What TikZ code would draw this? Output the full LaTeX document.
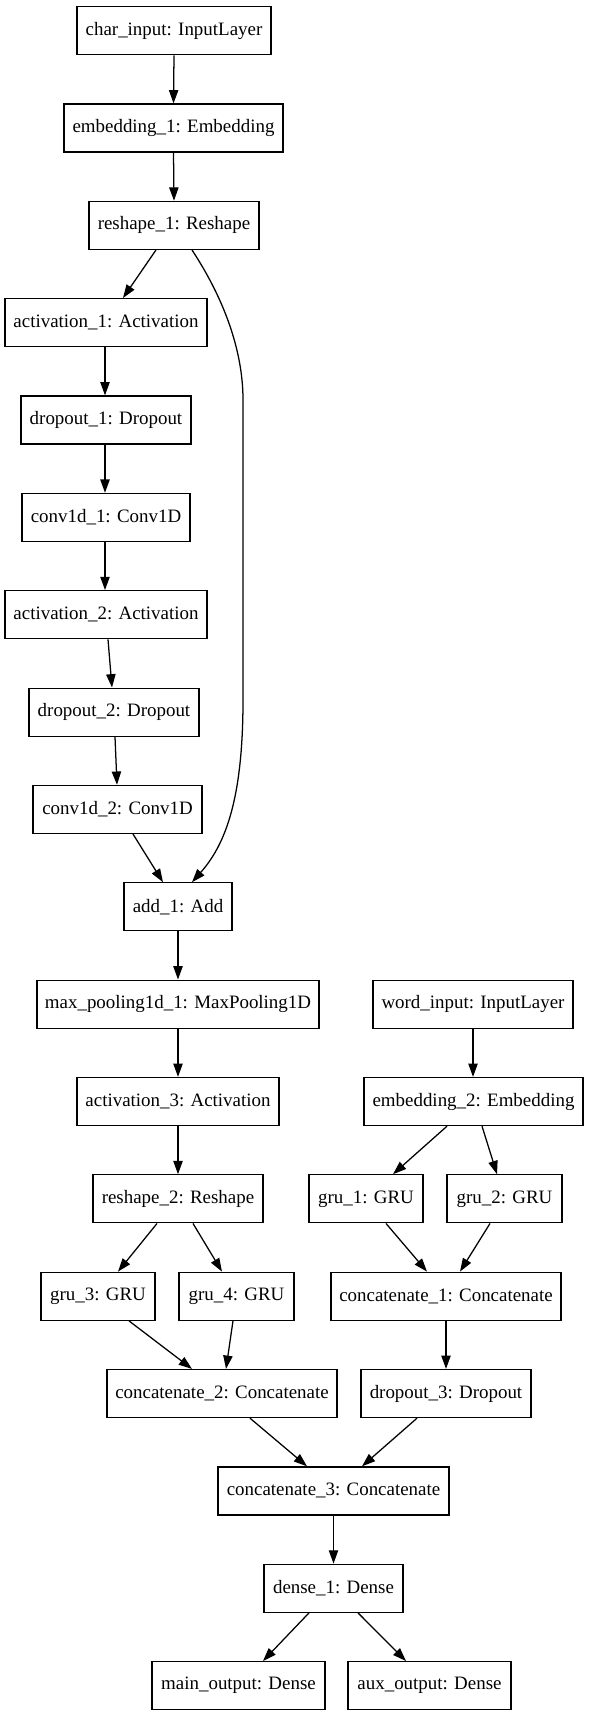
\documentclass[tikz,border=0pt]{standalone}
\usepackage{fontspec}
\setmainfont{Liberation Serif}
\usetikzlibrary{arrows.meta,calc}
\tikzset{
  layer/.style={draw=black, line width=0.95pt, rectangle, minimum height=36pt, inner sep=0pt,
    font=\fontsize{14.2pt}{17pt}\selectfont, anchor=north},
  bw/.style={minimum width=#1*0.75pt},
  arr/.style={line width=0.95pt, -{Triangle[length=10pt,width=7pt]}}
}
\begin{document}
\begin{tikzpicture}[x=0.75pt,y=-0.75pt]
\useasboundingbox[fill=white] (0,0) rectangle (589,1715);
% row tops: 6 + 97.35 k
\node[layer,bw=194] (ci) at (174,6) {char\_input: InputLayer};
\node[layer,bw=219] (e1) at (173.5,103.4) {embedding\_1: Embedding};
\node[layer,bw=170] (r1) at (174,200.7) {reshape\_1: Reshape};
\node[layer,bw=202] (a1) at (106,298) {activation\_1: Activation};
\node[layer,bw=170] (d1) at (106,395.4) {dropout\_1: Dropout};
\node[layer,bw=168] (c1) at (106,492.8) {conv1d\_1: Conv1D};
\node[layer,bw=202] (a2) at (106,590.1) {activation\_2: Activation};
\node[layer,bw=170] (d2) at (114,687.5) {dropout\_2: Dropout};
\node[layer,bw=169] (c2) at (117.5,784.8) {conv1d\_2: Conv1D};
\node[layer,bw=108] (add) at (178,882.2) {add\_1: Add};
\node[layer,bw=282] (mp) at (178,979.5) {max\_pooling1d\_1: MaxPooling1D};
\node[layer,bw=202] (a3) at (178,1076.9) {activation\_3: Activation};
\node[layer,bw=170] (r2) at (178,1174.2) {reshape\_2: Reshape};
\node[layer,bw=114] (g3) at (98,1271.6) {gru\_3: GRU};
\node[layer,bw=115] (g4) at (236.5,1271.6) {gru\_4: GRU};
\node[layer,bw=230] (cc2) at (222,1368.9) {concatenate\_2: Concatenate};
\node[layer,bw=200] (wi) at (473,979.5) {word\_input: InputLayer};
\node[layer,bw=219] (e2) at (473.5,1076.9) {embedding\_2: Embedding};
\node[layer,bw=114] (g1) at (366,1174.2) {gru\_1: GRU};
\node[layer,bw=115] (g2) at (504.5,1174.2) {gru\_2: GRU};
\node[layer,bw=230] (cc1) at (446,1271.6) {concatenate\_1: Concatenate};
\node[layer,bw=170] (d3) at (446,1368.9) {dropout\_3: Dropout};
\node[layer,bw=231] (cc3) at (333.5,1466.3) {concatenate\_3: Concatenate};
\node[layer,bw=139] (de) at (333.5,1563.6) {dense\_1: Dense};
\node[layer,bw=173] (mo) at (238.5,1661) {main\_output: Dense};
\node[layer,bw=163] (ao) at (429.5,1661) {aux\_output: Dense};

\draw[arr] (ci.south) -- (e1.south |- e1.north);
\draw[arr] (e1.south) -- (r1.north);
\draw[arr] ($(r1.south)+(-18,0)$) -- ($(a1.north)+(17,0)$);
\draw[arr] ($(r1.south)+(18,0)$) .. controls (205,270) and (243,330) .. (243,400)
  -- (243,700) .. controls (243,800) and (225,845) .. ($(add.north)+(14,0)$);
\draw[arr] ($(a1.south)+(-1,0)$) -- ($(d1.north)+(-1,0)$);
\draw[arr] ($(d1.south)+(-1,0)$) -- ($(c1.north)+(-1,0)$);
\draw[arr] ($(c1.south)+(-1,0)$) -- ($(a2.north)+(-1,0)$);
\draw[arr] ($(a2.south)+(2,0)$) -- ($(d2.north)+(-2,0)$);
\draw[arr] ($(d2.south)+(1,0)$) -- ($(c2.north)+(-0.5,0)$);
\draw[arr] ($(c2.south)+(15.5,0)$) -- ($(add.north)+(-15,0)$);
\draw[arr] (add.south) -- (mp.north);
\draw[arr] (mp.south) -- (a3.north);
\draw[arr] (a3.south) -- (r2.north);
\draw[arr] ($(r2.south)+(-21,0)$) -- ($(g3.north)+(20,0)$);
\draw[arr] ($(r2.south)+(15,0)$) -- ($(g4.north)+(-14.5,0)$);
\draw[arr] ($(g3.south)+(31,0)$) -- ($(cc2.north)+(-30,0)$);
\draw[arr] ($(g4.south)+(-3.5,0)$) -- ($(cc2.north)+(4,0)$);
\draw[arr] (wi.south) -- ($(e2.north)+(-0.5,0)$);
\draw[arr] ($(e2.south)+(-26.5,0)$) -- ($(g1.north)+(27,0)$);
\draw[arr] ($(e2.south)+(8.5,0)$) -- ($(g2.north)+(-7.5,0)$);
\draw[arr] ($(g1.south)+(20,0)$) -- ($(cc1.north)+(-19,0)$);
\draw[arr] ($(g2.south)+(-14.5,0)$) -- ($(cc1.north)+(14,0)$);
\draw[arr] (cc1.south) -- (d3.north);
\draw[arr] ($(cc2.south)+(28,0)$) -- ($(cc3.north)+(-26.5,0)$);
\draw[arr] ($(d3.south)+(-29,0)$) -- ($(cc3.north)+(28.5,0)$);
\draw[arr] (cc3.south) -- (de.north);
\draw[arr] ($(de.south)+(-24.5,0)$) -- ($(mo.north)+(24.5,0)$);
\draw[arr] ($(de.south)+(24.5,0)$) -- ($(ao.north)+(-23.5,0)$);
\end{tikzpicture}
\end{document}
